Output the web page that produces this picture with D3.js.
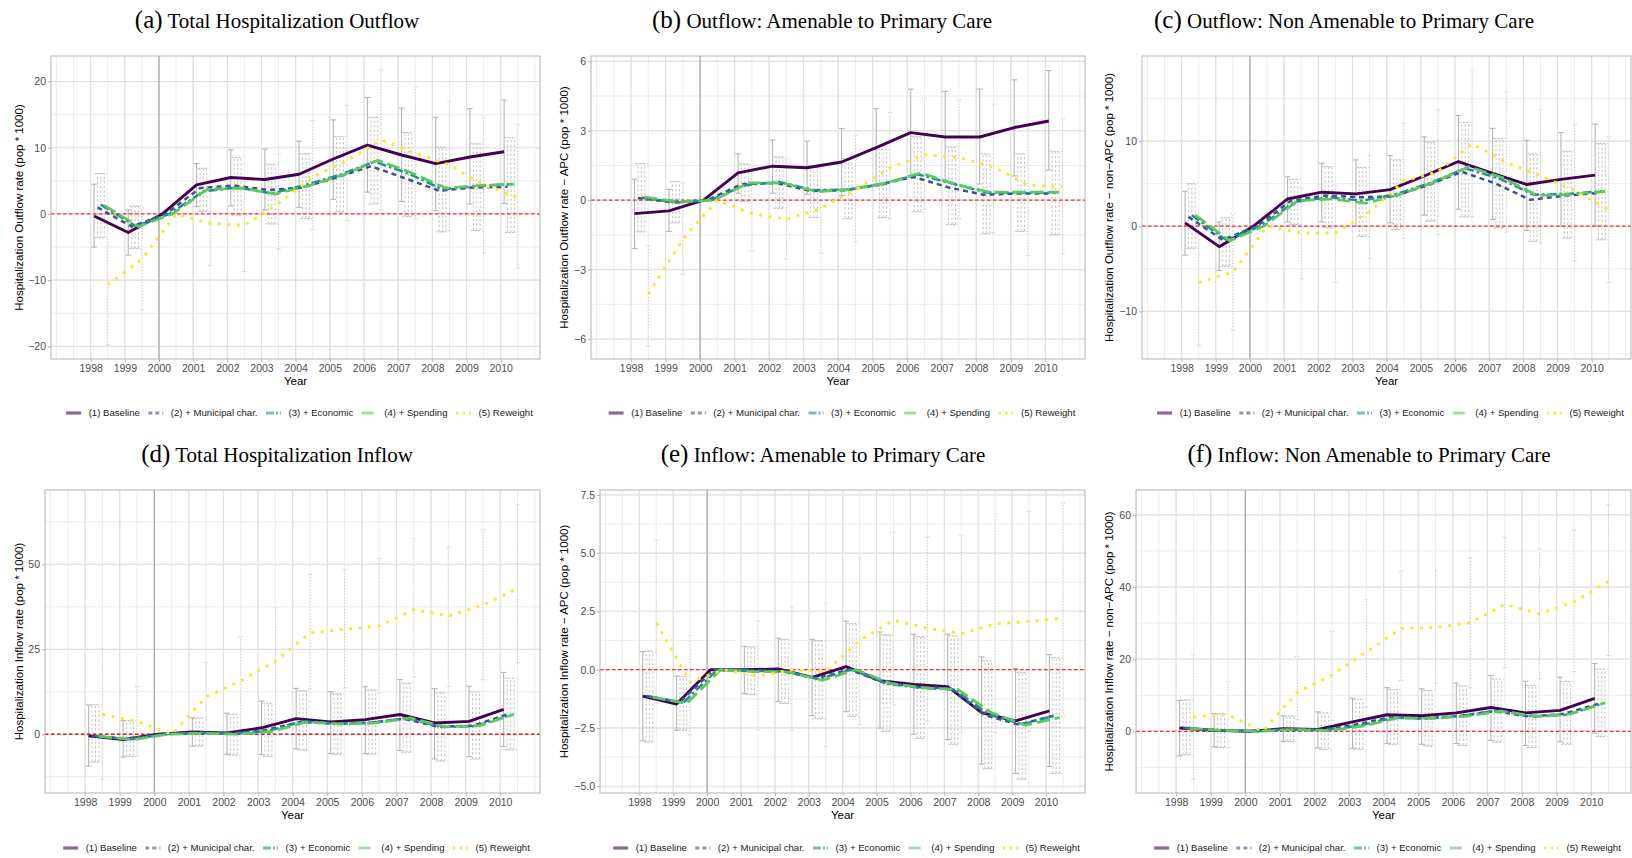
<!DOCTYPE html>
<html><head><meta charset="utf-8">
<script src="https://cdn.jsdelivr.net/npm/d3@7"></script>
<style>body{margin:0;background:#fff} svg{display:block}</style>
</head><body>
<svg id="c" width="1632" height="858"></svg>
<script>
// ---------------- DATA ----------------
const years = [1998,1999,2000,2001,2002,2003,2004,2005,2006,2007,2008,2009,2010];
const seriesNames = ["(1) Baseline","(2) + Municipal char.","(3) + Economic","(4) + Spending","(5) Reweight"];
const tags = ["(a)","(b)","(c)","(d)","(e)","(f)"];
const titles = ["Total Hospitalization Outflow","Outflow: Amenable to Primary Care","Outflow: Non Amenable to Primary Care",
                "Total Hospitalization Inflow","Inflow: Amenable to Primary Care","Inflow: Non Amenable to Primary Care"];
const yTitles = ["Hospitalization Outflow rate (pop * 1000)","Hospitalization Outflow rate \u2212 APC (pop * 1000)",
                 "Hospitalization Outflow rate \u2212 non\u2212APC (pop * 1000)","Hospitalization Inflow rate (pop * 1000)",
                 "Hospitalization Inflow rate \u2212 APC (pop * 1000)","Hospitalization Inflow rate \u2212 non\u2212APC (pop * 1000)"];
const xTitle = "Year";

// (a) Total outflow
const aTicks = [-20,-10,0,10,20];
const aBase = [-0.3,-2.8,0,4.4,5.5,5.2,6.0,8.3,10.4,8.9,7.6,8.6,9.4];
const aM2   = [1.0,-1.9,0,3.9,4.3,3.6,4.0,5.5,7.2,5.4,3.5,4.0,4.1];
const aM3   = [1.4,-1.8,0,3.4,4.0,3.1,4.4,5.9,7.9,6.1,3.7,4.2,4.5];
const aM4   = [1.3,-1.9,0,3.7,3.9,3.0,4.3,5.9,8.1,6.2,3.9,4.3,4.5];
const aRw   = [-10.7,-6.8,0,-1.4,-1.7,1.6,5.6,8.0,11.2,9.2,7.4,4.4,2.5];
const aBaseLo = [-5.0,-6.2,null,1.1,1.2,0.6,1.0,2.2,3.3,1.9,0.5,1.5,1.6];
const aBaseHi = [4.5,0.6,null,7.6,9.7,9.8,11.0,14.2,17.6,16.0,14.6,15.9,17.2];
const aCtrlLo = [-3.6,-5.2,null,0.4,-0.2,-1.5,-0.7,0.3,1.5,-0.4,-2.7,-2.5,-2.8];
const aCtrlHi = [6.1,1.2,null,6.9,8.5,7.5,9.1,11.7,14.6,12.3,10.1,10.6,11.5];
const aRwLo = [-19.8,-14.5,null,-7.8,-8.7,-5.3,-2.4,-1.0,0.6,-0.8,-2.5,-5.9,-8.2];
const aRwHi = [-1.6,0.9,null,5.0,5.3,9.1,14.1,16.4,21.8,19.2,17.0,14.5,13.5];

// (b) Outflow APC
const bTicks = [-6,-3,0,3,6];
const bBase = [-0.58,-0.46,0,1.18,1.47,1.40,1.65,2.27,2.92,2.73,2.73,3.14,3.42];
const bM2   = [0.10,-0.09,0,0.69,0.75,0.40,0.43,0.69,1.00,0.55,0.24,0.29,0.29];
const bM3   = [0.12,-0.10,0,0.65,0.79,0.43,0.46,0.69,1.12,0.72,0.33,0.32,0.32];
const bM4   = [0.14,-0.07,0,0.75,0.75,0.36,0.49,0.75,1.18,0.69,0.35,0.35,0.35];
const bRw   = [-4.06,-1.68,0,-0.58,-0.82,-0.35,0.45,1.40,1.96,1.84,1.44,0.65,0.58];
const bBaseLo = [-2.09,-1.35,null,0.30,0.30,0.25,0.20,0.60,1.05,0.80,0.70,1.05,1.30];
const bBaseHi = [0.91,0.47,null,2.00,2.60,2.55,3.10,3.95,4.80,4.70,4.80,5.20,5.60];
const bCtrlLo = [-1.37,-0.98,null,-0.05,-0.35,-0.75,-0.80,-0.75,-0.50,-1.05,-1.45,-1.35,-1.50];
const bCtrlHi = [1.58,0.80,null,1.57,1.87,1.50,1.80,2.20,2.75,2.30,2.00,2.00,2.10];
const bRwLo = [-6.30,-3.20,null,-2.20,-2.55,-2.30,-1.80,-0.80,-0.40,-0.80,-1.40,-2.40,-2.30];
const bRwHi = [-1.95,0.75,null,1.50,1.80,1.40,2.80,3.80,4.40,4.35,4.15,3.30,3.50];

// (c) Outflow non-APC
const cTicks = [-10,0,10];
const cBase = [0.4,-2.4,0,3.2,4.0,3.8,4.3,5.9,7.6,6.2,4.9,5.5,6.0];
const cM2   = [1.1,-1.6,0,3.0,3.6,3.4,3.5,4.8,6.4,5.0,3.1,3.6,3.9];
const cM3   = [1.3,-1.6,0,2.85,3.4,3.0,3.8,5.1,6.8,5.6,3.7,3.8,4.1];
const cM4   = [1.3,-1.7,0,3.0,3.2,2.7,3.75,5.2,7.0,5.7,3.6,3.75,4.1];
const cRw   = [-6.6,-5.4,0,-0.8,-0.8,1.7,5.3,6.4,9.7,7.5,5.9,4.2,1.9];
const cBaseLo = [-3.4,-5.2,null,0.5,0.5,0.0,0.4,1.3,2.0,0.8,-0.5,0.0,0.0];
const cBaseHi = [4.1,0.5,null,5.8,7.4,7.8,8.3,10.5,13.0,11.5,10.1,11.0,12.0];
const cCtrlLo = [-2.6,-4.7,null,0.2,-0.2,-1.2,-0.4,0.6,1.1,-0.2,-1.8,-1.4,-1.6];
const cCtrlHi = [5.0,1.0,null,5.5,7.0,6.9,7.8,9.9,12.2,10.3,8.5,8.8,9.7];
const cRwLo = [-14.0,-12.2,null,-6.2,-6.6,-3.8,-1.4,-1.0,1.1,-0.7,-2.0,-4.1,-6.6];
const cRwHi = [0.8,1.5,null,4.5,4.8,8.3,12.1,13.7,18.3,15.8,13.7,12.0,10.5];

// (d) Total inflow
const dTicks = [0,25,50];
const dBase = [-0.5,-1.6,0,0.7,0.4,1.9,4.6,3.6,4.3,5.8,3.3,3.8,7.3];
const dM2   = [-0.5,-1.3,0,0.5,0.2,1.2,3.6,3.1,3.3,4.6,2.2,2.5,5.8];
const dM3   = [-0.6,-1.5,0,0.4,0.2,1.0,3.8,3.2,3.4,4.8,2.1,2.4,5.7];
const dM4   = [-0.6,-1.6,0,0.3,0.0,0.8,3.6,3.0,3.3,4.8,2.2,2.5,5.9];
const dRw   = [5.8,3.8,0,11.0,15.7,21.5,29.8,30.9,31.9,36.7,34.8,38.0,42.9];
const dBaseLo = [-9.4,-6.7,null,-3.5,-5.9,-6.0,-4.3,-5.7,-5.7,-4.8,-7.3,-6.6,-3.6];
const dBaseHi = [8.6,4.0,null,4.9,6.2,9.7,13.5,12.5,14.0,16.1,13.4,14.1,18.2];
const dCtrlLo = [-8.2,-6.5,null,-3.5,-6.2,-6.5,-4.7,-5.9,-5.9,-5.3,-7.9,-7.3,-4.6];
const dCtrlHi = [8.7,4.0,null,4.8,5.9,9.1,12.8,11.9,13.0,15.0,12.2,12.5,16.5];
const dRwLo = [-13.3,-6.5,null,0.5,0.3,4.0,13.3,13.6,12.1,16.8,14.1,16.0,21.0];
const dRwHi = [25.3,14.1,null,21.2,28.7,37.4,47.1,48.5,51.7,57.5,55.0,60.2,67.6];

// (e) Inflow APC
const eTicks = [-5,-2.5,0,2.5,5,7.5];
const eBase = [-1.13,-1.47,0,0.0,0.03,-0.33,0.13,-0.47,-0.63,-0.73,-1.84,-2.20,-1.77];
const eM2   = [-1.13,-1.38,0,-0.04,-0.06,-0.37,0.01,-0.55,-0.73,-0.80,-1.95,-2.36,-1.98];
const eM3   = [-1.15,-1.42,0,-0.05,-0.07,-0.40,0.02,-0.60,-0.78,-0.85,-1.90,-2.35,-1.95];
const eM4   = [-1.18,-1.45,0,-0.08,-0.10,-0.45,0.00,-0.58,-0.78,-0.85,-1.85,-2.38,-2.05];
const eRw   = [2.00,-0.52,0,-0.27,-0.01,-0.07,1.25,2.12,1.78,1.55,1.97,2.07,2.21];
const eBaseLo = [-3.05,-2.60,null,-1.03,-1.37,-1.97,-1.80,-2.50,-2.77,-3.00,-4.05,-4.45,-4.15];
const eBaseHi = [0.78,-0.27,null,1.00,1.35,1.30,2.08,1.62,1.52,1.52,0.55,0.05,0.65];
const eCtrlLo = [-3.10,-2.60,null,-1.07,-1.45,-2.10,-2.00,-2.65,-2.95,-3.20,-4.25,-4.70,-4.45];
const eCtrlHi = [0.80,-0.30,null,0.98,1.30,1.25,1.98,1.50,1.42,1.45,0.38,-0.12,0.52];
const eRwLo = [-1.45,-2.80,null,-2.60,-2.60,-3.30,-2.35,-1.50,-2.20,-2.70,-2.70,-2.65,-2.00];
const eRwHi = [5.55,1.45,null,2.10,2.70,2.85,4.80,5.90,5.70,5.75,6.70,6.80,7.15];

// (f) Inflow non-APC
const fTicks = [0,20,40,60];
const fBase = [0.9,0.3,0,0.7,0.5,2.6,4.6,4.3,5.1,6.6,5.1,5.8,9.1];
const fM2   = [0.9,0.3,0,0.6,0.4,1.9,3.9,3.6,4.3,5.6,4.1,4.8,7.6];
const fM3   = [0.8,0.3,0,0.6,0.3,1.6,3.8,3.5,4.3,5.8,4.1,4.6,7.6];
const fM4   = [0.8,0.2,0,0.5,0.2,1.4,3.7,3.6,4.2,5.6,4.2,4.8,7.9];
const fRw   = [4.0,4.6,0,10.8,15.6,22.0,28.5,28.8,30.1,35.2,32.6,35.9,41.5];
const fBaseLo = [-6.8,-4.3,null,-2.8,-4.6,-4.7,-3.4,-3.6,-3.4,-2.5,-3.9,-2.9,-0.5];
const fBaseHi = [8.6,4.9,null,4.3,5.4,9.2,12.1,11.8,13.4,15.5,13.9,15.0,18.8];
const fCtrlLo = [-6.5,-4.5,null,-2.8,-5.0,-5.0,-3.6,-4.1,-3.9,-3.0,-4.5,-3.6,-1.5];
const fCtrlHi = [8.7,4.9,null,4.3,5.1,8.8,11.6,11.3,12.6,14.5,12.7,13.8,17.2];
const fRwLo = [-13.3,-4.5,null,3.2,3.0,6.7,14.1,13.2,12.0,17.6,14.5,16.5,21.0];
const fRwHi = [21.3,13.8,null,20.7,27.7,36.5,44.4,44.6,48.0,53.8,50.7,55.8,62.8];

// ---------------- LAYOUT / STYLE ----------------
const panels = [
  {series:[aBase,aM2,aM3,aM4,aRw], ci:[[aBaseLo,aBaseHi],[aCtrlLo,aCtrlHi],[aRwLo,aRwHi]], ticks:aTicks, fmt:d3.format("d"),
   box:[51,540,56,359], yDom:[-21.9,23.85], titleX:277, titleY:28, ytX:19, legY:413},
  {series:[bBase,bM2,bM3,bM4,bRw], ci:[[bBaseLo,bBaseHi],[bCtrlLo,bCtrlHi],[bRwLo,bRwHi]], ticks:bTicks, fmt:d3.format("d"),
   box:[591,1085,56,359], yDom:[-6.86,6.23], titleX:822, titleY:28, ytX:564, legY:413},
  {series:[cBase,cM2,cM3,cM4,cRw], ci:[[cBaseLo,cBaseHi],[cCtrlLo,cCtrlHi],[cRwLo,cRwHi]], ticks:cTicks, fmt:d3.format("d"),
   box:[1142,1631,56,359], yDom:[-15.6,20.0], titleX:1344, titleY:28, ytX:1109, legY:413},
  {series:[dBase,dM2,dM3,dM4,dRw], ci:[[dBaseLo,dBaseHi],[dCtrlLo,dCtrlHi],[dRwLo,dRwHi]], ticks:dTicks, fmt:d3.format("d"),
   box:[45,540,490,793], yDom:[-17.3,71.9], titleX:277, titleY:462, ytX:19, legY:848},
  {series:[eBase,eM2,eM3,eM4,eRw], ci:[[eBaseLo,eBaseHi],[eCtrlLo,eCtrlHi],[eRwLo,eRwHi]], ticks:eTicks, fmt:d3.format(".1f"),
   box:[600,1085,490,793], yDom:[-5.29,7.71], titleX:823, titleY:462, ytX:564, legY:848},
  {series:[fBase,fM2,fM3,fM4,fRw], ci:[[fBaseLo,fBaseHi],[fCtrlLo,fCtrlHi],[fRwLo,fRwHi]], ticks:fTicks, fmt:d3.format("d"),
   box:[1136,1631,490,793], yDom:[-17.1,66.9], titleX:1369, titleY:462, ytX:1109, legY:848}
];

const xDomain = [1996.84, 2011.15];
const offsets = [0.1,0.2,0.3,0.4,0.5];
const colors = ["#440154","#3b528b","#21908c","#5dc863","#fde725"];
const dashes = [null,"5,4","9,3,2.5,3","13,5","3,6.5"];
const widths = [2.9,2.5,2.5,2.7,2.9];
const sans = "'Liberation Sans', Arial, sans-serif";
const serif = "'Liberation Serif', 'Times New Roman', serif";

const svg = d3.select("#c");

panels.forEach((p, pi) => {
  const [x0,x1,y0,y1] = p.box;
  const x = d3.scaleLinear().domain(xDomain).range([x0,x1]);
  const y = d3.scaleLinear().domain(p.yDom).range([y1,y0]);
  const g = svg.append("g");

  // minor grid
  const xMinor = d3.range(1997, 2011.01, 0.5);
  const step = p.ticks[1]-p.ticks[0];
  const yMinor = d3.range(p.ticks[0]-step*1.5, p.ticks[p.ticks.length-1]+step*1.6, step/2)
                   .filter(v => v > p.yDom[0] && v < p.yDom[1]);
  g.selectAll(".vm").data(xMinor).join("line")
    .attr("x1",d=>x(d)).attr("x2",d=>x(d)).attr("y1",y0).attr("y2",y1)
    .attr("stroke","#ebebeb").attr("stroke-width",0.9);
  g.selectAll(".hm").data(yMinor).join("line")
    .attr("x1",x0).attr("x2",x1).attr("y1",d=>y(d)).attr("y2",d=>y(d))
    .attr("stroke","#ebebeb").attr("stroke-width",0.9);
  // major grid
  g.selectAll(".vM").data(years).join("line")
    .attr("x1",d=>x(d)).attr("x2",d=>x(d)).attr("y1",y0).attr("y2",y1)
    .attr("stroke","#e0e0e0").attr("stroke-width",1.2);
  g.selectAll(".hM").data(p.ticks).join("line")
    .attr("x1",x0).attr("x2",x1).attr("y1",d=>y(d)).attr("y2",d=>y(d))
    .attr("stroke","#e0e0e0").attr("stroke-width",1.2);

  // vertical reference at 2000
  g.append("line").attr("x1",x(2000)).attr("x2",x(2000)).attr("y1",y0).attr("y2",y1)
    .attr("stroke","#9a9a9a").attr("stroke-width",1);

  // error bars
  const ebStyles = [
    {idx:[0], dash:null, col:"#b5b5b5", w:1.1, cap:2.8},
    {idx:[1,2,3], dash:"2.5,2", col:"#bdbdbd", w:0.9, cap:2.6},
    {idx:[4], dash:"1,2", col:"#c2c2c2", w:0.9, cap:2.0}
  ];
  ebStyles.forEach((st, si) => {
    const [lo, hi] = p.ci[si];
    st.idx.forEach(sIdx => {
      const off = offsets[sIdx];
      const pts = years.map((yr,i)=>({yr, lo:lo[i], hi:hi[i]})).filter(d=>d.lo!==null);
      const eg = g.append("g").attr("stroke",st.col).attr("stroke-width",st.w).attr("fill","none");
      if (st.dash) eg.attr("stroke-dasharray", st.dash);
      pts.forEach(d => {
        const cx = x(d.yr+off);
        eg.append("line").attr("x1",cx).attr("x2",cx).attr("y1",y(d.lo)).attr("y2",y(d.hi));
        eg.append("line").attr("x1",cx-st.cap).attr("x2",cx+st.cap).attr("y1",y(d.lo)).attr("y2",y(d.lo));
        eg.append("line").attr("x1",cx-st.cap).attr("x2",cx+st.cap).attr("y1",y(d.hi)).attr("y2",y(d.hi));
      });
    });
  });

  // zero line
  g.append("line").attr("x1",x0).attr("x2",x1).attr("y1",y(0)).attr("y2",y(0))
    .attr("stroke", pi===3 ? "#d62020" : "#ff2a2a").attr("stroke-width",1.3).attr("stroke-dasharray","3.5,2.5");

  // series lines
  p.series.forEach((vals, si) => {
    const line = d3.line().x((d,i)=>x(years[i]+offsets[si])).y(d=>y(d));
    const path = g.append("path").datum(vals).attr("d", line)
      .attr("fill","none").attr("stroke",colors[si]).attr("stroke-width",widths[si])
      .attr("stroke-linejoin","round").attr("stroke-linecap","butt");
    if (dashes[si]) path.attr("stroke-dasharray", dashes[si]);
  });

  // border
  g.append("rect").attr("x",x0).attr("y",y0).attr("width",x1-x0).attr("height",y1-y0)
    .attr("fill","none").attr("stroke","#b3b3b3").attr("stroke-width",1);

  // axes
  const xAxis = d3.axisBottom(x).tickValues(years).tickFormat(d3.format("d")).tickSize(3).tickPadding(3);
  const gx = g.append("g").attr("transform",`translate(0,${y1})`).call(xAxis);
  gx.select(".domain").remove();
  gx.selectAll("line").attr("stroke","#b3b3b3");
  gx.selectAll("text").attr("fill","#4d4d4d").style("font-family",sans).style("font-size","10.5px");

  const yAxis = d3.axisLeft(y).tickValues(p.ticks).tickFormat(p.fmt).tickSize(3).tickPadding(2);
  const gy = g.append("g").attr("transform",`translate(${x0},0)`).call(yAxis);
  gy.select(".domain").remove();
  gy.selectAll("line").attr("stroke","#b3b3b3");
  gy.selectAll("text").attr("fill","#4d4d4d").style("font-family",sans).style("font-size","10.5px");

  // axis titles
  g.append("text").attr("x",(x0+x1)/2).attr("y",y1+26).attr("text-anchor","middle")
    .style("font-family",sans).style("font-size","11.5px").attr("fill","#000").text(xTitle);
  g.append("text").attr("transform",`translate(${p.ytX},${(y0+y1)/2}) rotate(-90)`)
    .attr("text-anchor","middle").attr("dy","0.35em")
    .style("font-family",sans).style("font-size","11.5px").attr("fill","#000").text(yTitles[pi]);

  // title
  const t = g.append("text").attr("x",p.titleX).attr("y",p.titleY).attr("text-anchor","middle")
    .style("font-family",serif).attr("fill","#000");
  t.append("tspan").style("font-size","25px").text(tags[pi]);
  t.append("tspan").style("font-size","21px").text(" " + titles[pi]);

  // legend
  const lg = g.append("g");
  let cur = 0;
  seriesNames.forEach((nm, si) => {
    const ig = lg.append("g").attr("transform",`translate(${cur},0)`);
    const kl = ig.append("line").attr("x1",0).attr("x2",15).attr("y1",0).attr("y2",0)
      .attr("stroke",colors[si]).attr("stroke-width",si===0?3.2:2.8).attr("opacity",0.6);
    if (si===1) kl.attr("stroke-dasharray","4,3");
    if (si===2) kl.attr("stroke-dasharray","8,2,2,2");
    if (si===3) kl.attr("stroke-dasharray","12,3");
    if (si===4) kl.attr("stroke-dasharray","2.5,4").attr("opacity",0.9);
    const tx = ig.append("text").attr("x",22.5).attr("y",0).attr("dy","0.35em")
      .style("font-family",sans).style("font-size","9.6px").attr("fill","#1a1a1a").text(nm);
    const w = tx.node().getComputedTextLength();
    cur += 22.5 + w + 8.5;
  });
  const total = cur - 8.5;
  lg.attr("transform",`translate(${(x0+x1)/2 + 4 - total/2},${p.legY})`);
});
</script>
</body></html>
